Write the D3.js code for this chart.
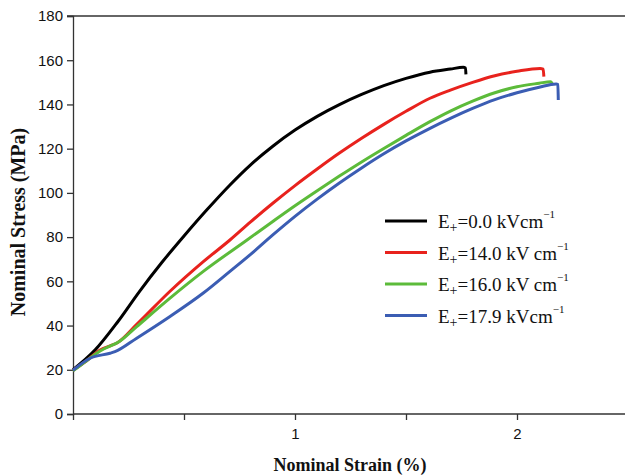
<!DOCTYPE html>
<html>
<head>
<meta charset="utf-8">
<script src="https://cdn.jsdelivr.net/npm/d3@7"></script>
<style>
  body { margin: 0; background: #fff; }
  svg { display: block; }
</style>
</head>
<body>
<div id="chart"></div>
<script>
// stress-strain curves
const strain0 = [0, 0.1, 0.2, 0.3, 0.4, 0.5, 0.6, 0.707, 0.8, 0.9, 1.0, 1.1, 1.2, 1.3, 1.4, 1.5, 1.608, 1.7, 1.758, 1.768, 1.77];
const stress0 = [20, 29, 41.5, 55.5, 68.5, 80.5, 92, 103.6, 112.7, 121.1, 128.4, 134.6, 139.9, 144.5, 148.5, 151.8, 154.6, 156, 156.8, 156.5, 153.6];

const strain14 = [0, 0.06, 0.122, 0.167, 0.2, 0.287, 0.437, 0.587, 0.707, 0.8, 0.9, 1.0, 1.1, 1.2, 1.3, 1.4, 1.5, 1.608, 1.7, 1.8, 1.9, 2.0, 2.104, 2.118, 2.121];
const stress14 = [19.8, 24, 28.9, 30.8, 32.2, 40.5, 55.5, 68.9, 78.7, 86.9, 95.3, 103.3, 110.8, 118, 124.7, 131, 136.9, 142.8, 146.5, 150, 153, 155, 156.3, 156, 152.6];

const strain16 = [0, 0.06, 0.122, 0.212, 0.287, 0.437, 0.587, 0.784, 0.9, 1.0, 1.1, 1.2, 1.3, 1.4, 1.5, 1.608, 1.7, 1.8, 1.9, 2.0, 2.1, 2.151, 2.162];
const stress16 = [19.5, 24, 28.5, 33, 39.5, 52.4, 64.5, 78.7, 87.1, 94.2, 101, 107.6, 114, 120.1, 126, 132.2, 137, 141.5, 145.3, 148, 149.6, 150.3, 148.8];

const strain179 = [0, 0.077, 0.167, 0.189, 0.287, 0.437, 0.587, 0.707, 0.8, 0.9, 1.0, 1.1, 1.2, 1.3, 1.4, 1.5, 1.608, 1.7, 1.8, 1.9, 2.0, 2.1, 2.176, 2.184, 2.186];
const stress179 = [19.8, 25.2, 27.5, 28.2, 34.3, 44.1, 54.7, 64.5, 72.2, 81, 89.4, 97.2, 104.5, 111.3, 117.7, 123.5, 129.2, 133.7, 138.2, 142.2, 145.3, 147.8, 149.3, 149, 142];

const fields = ["0.0", "14.0", "16.0", "17.9"];
const gaps = ["", " ", " ", ""];
const colors = ["#000000", "#e8221d", "#5cbb3a", "#3b5db3"];

const yTicks = [0, 20, 40, 60, 80, 100, 120, 140, 160, 180];
const xTicks = [0, 0.5, 1, 1.5, 2, 2.5];
const xLabels = ["", "", "1", "", "2", ""];

const series = [
  d3.zip(strain0, stress0),
  d3.zip(strain14, stress14),
  d3.zip(strain16, stress16),
  d3.zip(strain179, stress179)
];

const width = 625, height = 475;
const svg = d3.select("#chart").append("svg")
  .attr("width", width)
  .attr("height", height);

const x = d3.scaleLinear().domain([0, 2.5]).range([73, 628]);
const y = d3.scaleLinear().domain([0, 180]).range([414, 16]);

// top border
svg.append("line")
  .attr("x1", 67).attr("x2", width)
  .attr("y1", y(180)).attr("y2", y(180))
  .attr("stroke", "#333").attr("stroke-width", 1.3);

const yAxis = svg.append("g")
  .attr("transform", `translate(${x(0)},0)`)
  .call(d3.axisLeft(y).tickValues(yTicks).tickSize(6).tickPadding(4));

const xAxis = svg.append("g")
  .attr("transform", `translate(0,${y(0)})`)
  .call(d3.axisBottom(x).tickValues(xTicks).tickSize(6).tickPadding(8)
    .tickFormat((d, i) => xLabels[i]));

[yAxis, xAxis].forEach(g => {
  g.select(".domain").attr("stroke", "#333").attr("stroke-width", 1.3);
  g.selectAll(".tick line").attr("stroke", "#333").attr("stroke-width", 1.3);
  g.selectAll(".tick text")
    .attr("fill", "#111")
    .attr("font-family", "Liberation Sans, Arial, sans-serif")
    .attr("font-size", 15);
});
xAxis.select(".domain").attr("d", `M${x(0)},0H${width}`);

const line = d3.line()
  .x(d => x(d[0]))
  .y(d => y(d[1]))
  .curve(d3.curveMonotoneX);

svg.append("g")
  .selectAll("path")
  .data(series)
  .join("path")
  .attr("fill", "none")
  .attr("stroke", (d, i) => colors[i])
  .attr("stroke-width", 3)
  .attr("stroke-linejoin", "round")
  .attr("d", line);

// axis titles
svg.append("text")
  .attr("x", 350).attr("y", 471)
  .attr("text-anchor", "middle")
  .attr("font-family", "Liberation Serif, Times New Roman, serif")
  .attr("font-weight", "bold")
  .attr("font-size", 18)
  .attr("fill", "#111")
  .text("Nominal Strain (%)");

svg.append("text")
  .attr("transform", "translate(25,222) rotate(-90)")
  .attr("text-anchor", "middle")
  .attr("font-family", "Liberation Serif, Times New Roman, serif")
  .attr("font-weight", "bold")
  .attr("font-size", 20)
  .attr("fill", "#111")
  .text("Nominal Stress (MPa)");

// legend
const legend = svg.append("g")
  .selectAll("g")
  .data(fields)
  .join("g")
  .attr("transform", (d, i) => `translate(385,${221 + i * 31.5})`);

legend.append("line")
  .attr("x1", 0).attr("x2", 42)
  .attr("stroke", (d, i) => colors[i])
  .attr("stroke-width", 3);

const label = legend.append("text")
  .attr("x", 53).attr("y", 7)
  .attr("font-family", "Liberation Serif, Times New Roman, serif")
  .attr("font-size", 19)
  .attr("fill", "#111");
label.append("tspan").text("E");
label.append("tspan").attr("font-size", 14).attr("dy", 4).text("+");
label.append("tspan").attr("dy", -4).text((d, i) => `=${d} kV${gaps[i]}cm`);
label.append("tspan").attr("font-size", 11).attr("dy", -10).text("\u22121");
</script>
</body>
</html>
